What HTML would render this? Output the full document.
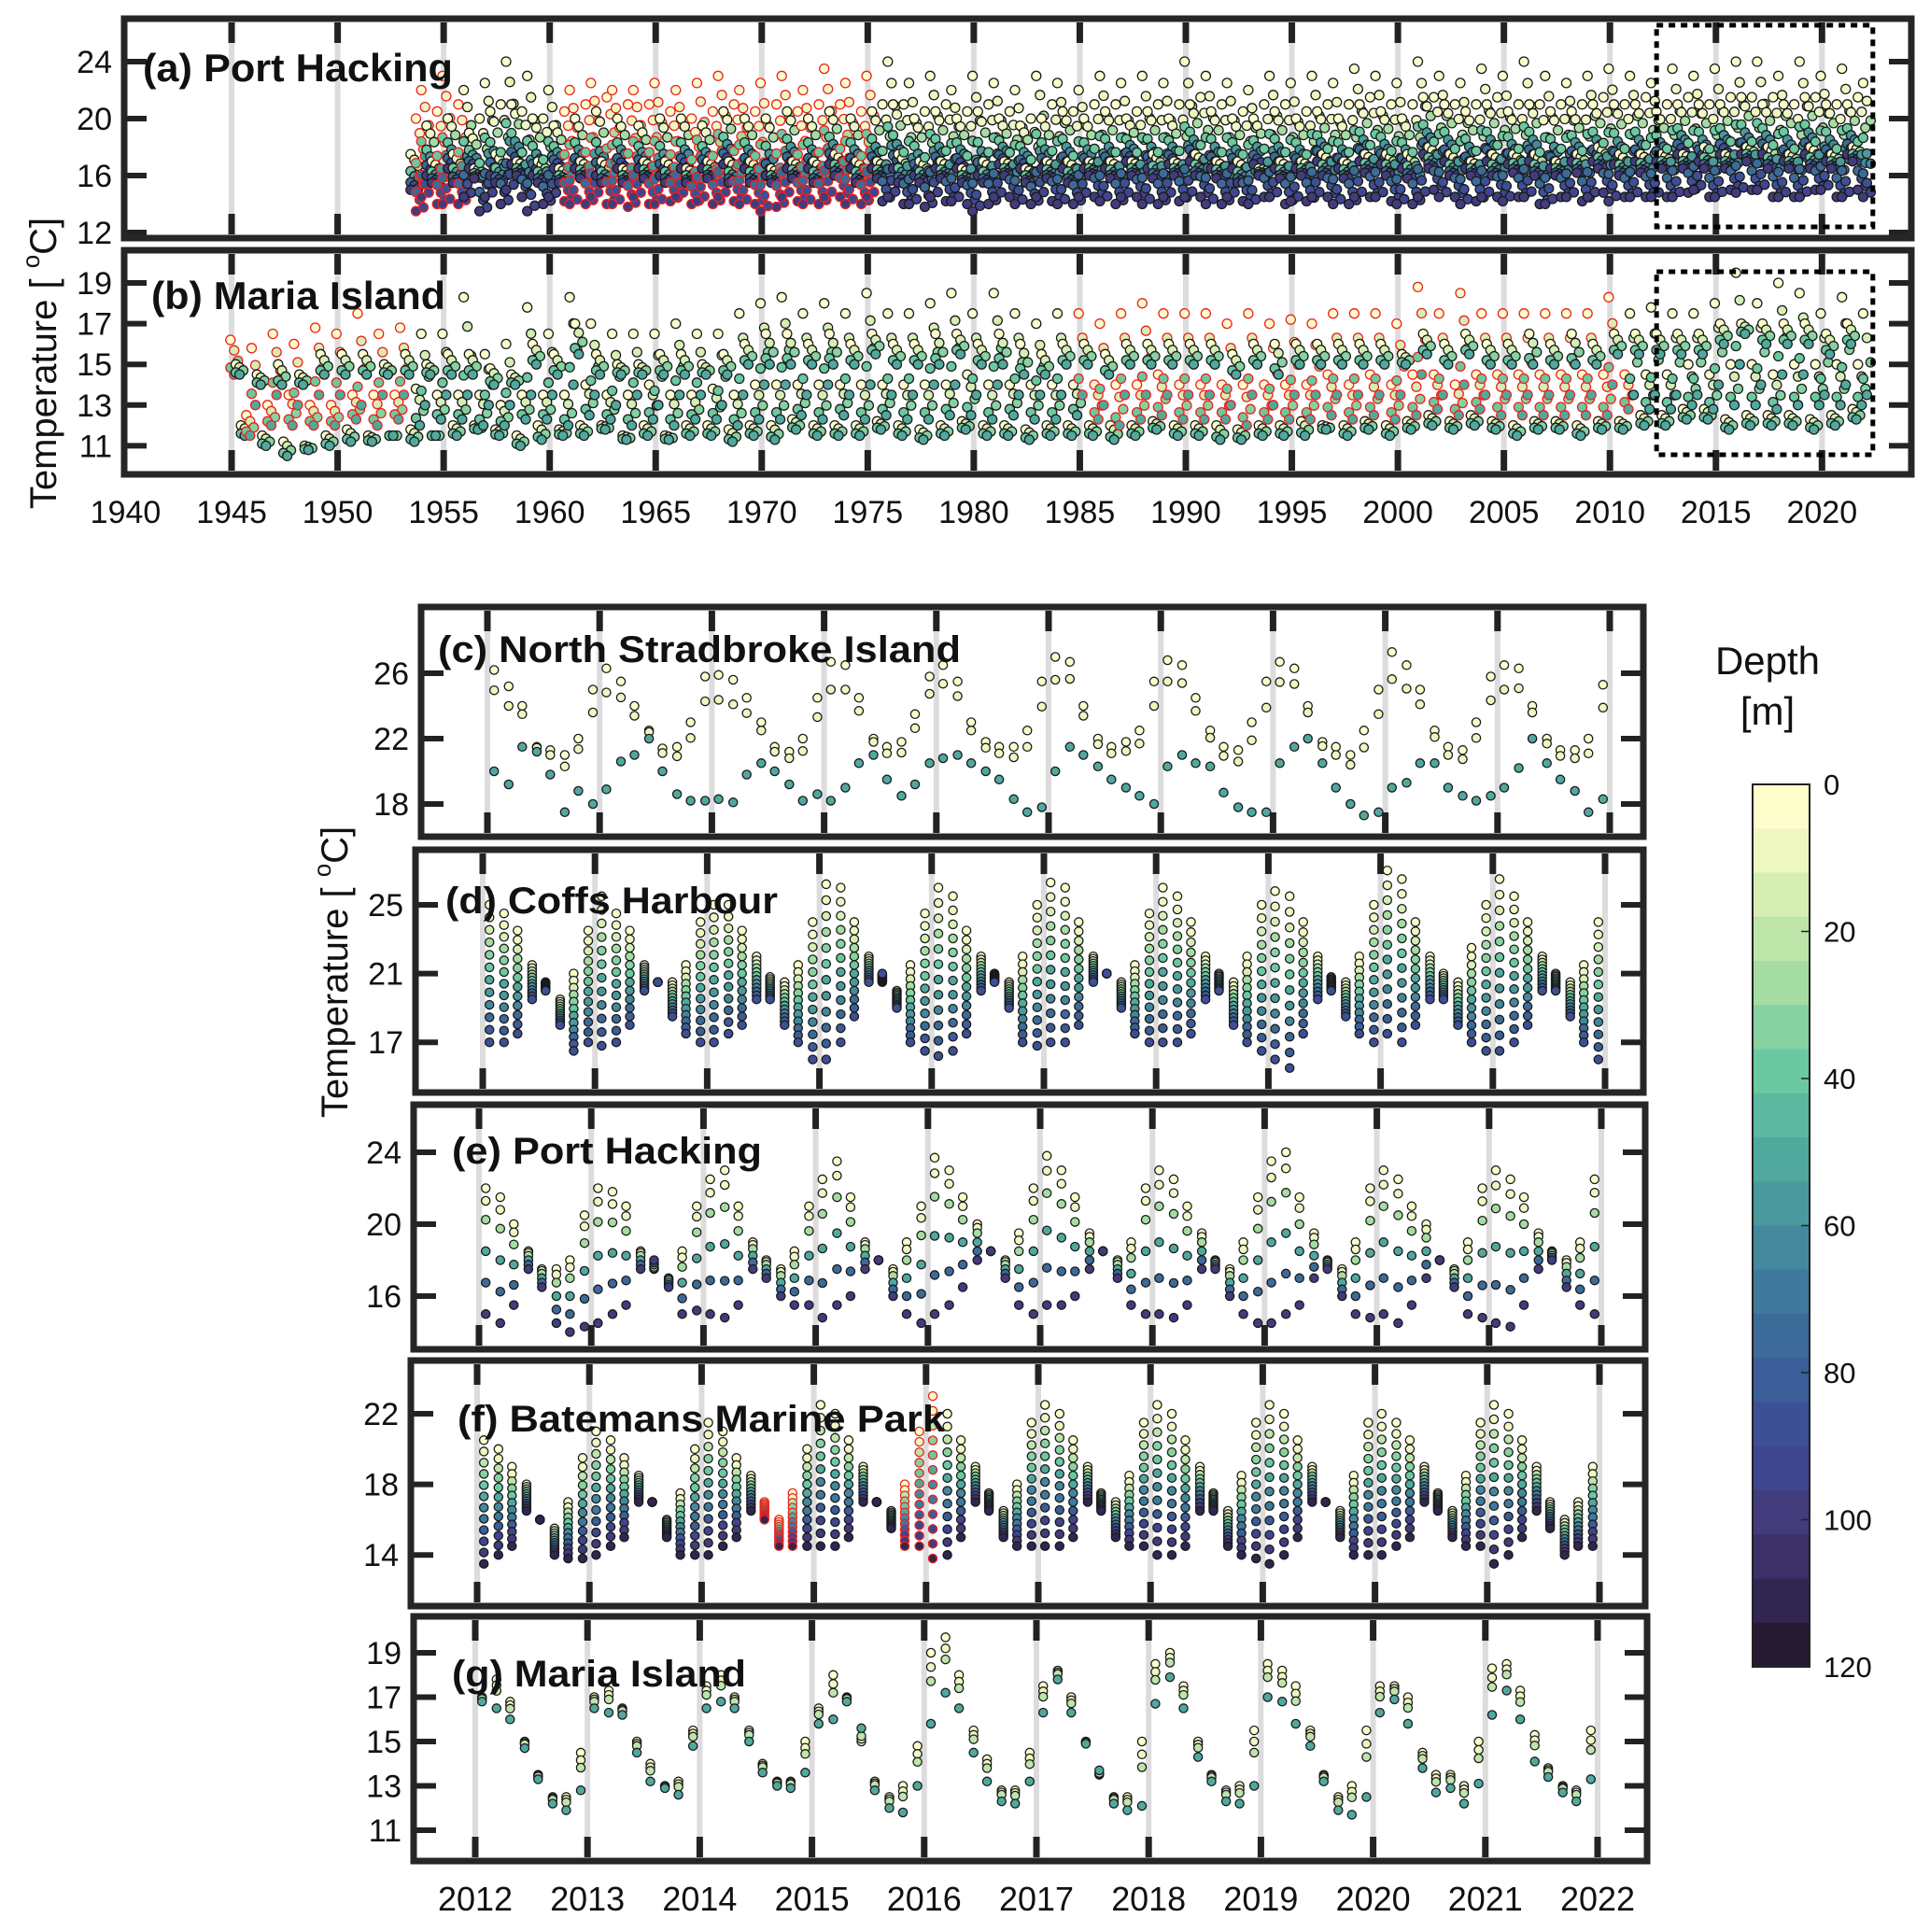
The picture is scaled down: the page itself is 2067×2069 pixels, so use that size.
<!DOCTYPE html>
<html><head><meta charset="utf-8"><style>
html,body{margin:0;padding:0;background:#fff}
svg{display:block}
text{font-family:"Liberation Sans",Arial,sans-serif;fill:#111}
</style></head><body>
<svg id="chart" xmlns="http://www.w3.org/2000/svg" width="2067" height="2069" viewBox="0 0 2067 2069">
<rect x="0" y="0" width="2067" height="2069" fill="#fff"/>
<g id="layer"></g>
</svg>
<script>
// ---------- DATA ----------
const aStartYear = 1953;
const aSurf = [
null,null,17.5,20, 22,19.5,17,20.5, 23,20,17.5,21, 22,19,16.5,20, 22.5,20.5,17.5,21, 24,21,17,20.5, 23,20,17,20,
22,19.5,16.5,20.5, 22,20,17,21, 22.5,20.5,17,21.5, 22,20,16.5,21, 22,19.5,17,21, 22.5,20,17,20.5, 22,20,16.5,20,
22.5,19.5,17,20.5, 23,20.5,17,21, 22,20,17,20.5, 22.5,20,16.5,21, 23,20.5,17,20.5, 22,20,17,21, 23.5,20.5,17.5,21,
22.5,20,17,20.5, 23,20.5,17,21, 24,21,17.5,21, 22.5,20,17,20.5, 23,20.5,17,21, 22,20,16.5,20.5, 23,20.5,17,21,
22.5,20,17,20.5, 22,19.5,16.5,20, 23,20,17,21, 22.5,20.5,17,20.5, 22,20,17,21, 23,20.5,17,21, 22.5,20,17,20.5,
23,20.5,17.5,21, 22.5,20,17,21, 24,21,17.5,21.5, 23,20.5,17,21, 22.5,20,17,20.5, 22,20,16.5,21, 23,20.5,17,21,
22.5,20,17,20.5, 23,20.5,17.5,21, 22.5,20,17,21, 23.5,21,17.5,21.5, 23,20.5,17.5,21, 22.5,20,17.5,21, 24,21.5,18,21.5,
23,21,17.5,21, 22.5,20.5,17,21, 23.5,21,17.5,21.5, 23,20.5,17.5,21, 24,21,17.5,21, 23,20.5,17,21, 22.5,20.5,17.5,21,
23,21,18,21.5, 23.5,21,17.5,21, 23,21,17.5,21.5, 22.5,20.5,17.5,21, 23.5,21,17.5,21.5, 23,21,18,21, 23.5,21,17.5,21.5,
24,21.5,18,21.5, 24,21,18,21.5, 23,21,17.5,21, 24,21.5,18,21.5, 23,21,17.5,21, 23.5,21,18,21.5, 22.5,null,null,null];
const aBot = [
null,null,15,13.5, 14.5,16,15.5,14, 14,16.5,15.5,14, 14.5,16.5,15.8,13.5, 14.5,16,15.5,14, 15,16.8,16,14.5, 13.5,16,15.5,14,
14.5,16.5,15.5,14.2, 14,16.5,15.8,14, 14.5,16,15.5,14, 14,16.5,15.5,13.8, 14.5,16.5,15.8,14, 14,16,15.5,14.2, 14.5,16.5,15.5,14,
14.2,16.5,15.8,14, 14.5,16.8,15.5,14.2, 14,16.5,15.5,14, 13.5,16,15.5,13.8, 14.5,16.5,15.8,14.2, 14,16.5,15.5,14, 14.5,16.8,16,14.5,
14,16.5,15.5,14, 14.5,16.5,15.8,14.2, 14.5,16.5,15.5,14, 14,16,15.5,13.8, 14.5,16.5,15.8,14.2, 14.2,16.5,15.5,14, 13.5,16,15.5,14,
14.5,16.8,16,14.5, 14,16.5,15.5,14, 14.5,16.5,15.8,14.2, 14,16.5,15.5,14, 14.5,16.5,16,14.5, 14.2,16.5,15.8,14, 14.5,17,16,14.5,
14,16.5,15.8,14, 14.5,16.8,16,14.2, 14.5,17,16,14.5, 14,16.5,15.8,14, 14.5,16.5,15.5,14.2, 14,16.8,16,14.5, 14.5,16.5,15.8,14,
14.2,16.5,16,14.2, 14.5,17,16,14.5, 14,16.5,15.8,14, 14.5,17,16.2,14.5, 14.5,16.8,16,14.2, 14,16.5,15.8,14, 14.5,17.5,16.5,15,
14.5,17,16,14.5, 14,16.5,16,14.2, 14.5,17,16,14.5, 14.2,16.8,16.2,14.5, 14.5,17,16,14, 14,16.5,16,14.5, 14.5,17,16.2,14.2,
14.5,17,16.5,14.8, 14.2,16.8,16,14.5, 14.5,17,16.2,14.5, 14.5,17,16.5,14.5, 14.5,17.5,16.5,14.8, 15,17,16.5,14.5, 14.5,17.5,16.5,15,
14.8,17.5,17,15, 15,17.5,16.5,14.5, 14.5,17,16.5,14.5, 14.5,17.5,16.5,15, 15,17,16.5,14.5, 14.5,17.5,17,15, 14.5,null,null,null];
const aRedRanges = [[1953.5,1956],[1960.5,1975.5]];

const bStartYear = 1945;
const bSurf = [
16.2,15,12,12.5, 15.8,14.5,11.5,13, 16.5,15,11.2,13.5, 16,14.5,11,13, 16.8,15.5,11.5,13, 16.5,15.5,11.8,13.5, 17.5,15.5,11.5,13.5,
16.5,15,11.5,13.5, 16.8,15.5,11.8,13.8, 16.5,15,11.5,13.5, 16.5,15.5,12,13.5, 18.3,15.5,12,13.5, 15.5,14.8,11.8,13, 16,14.5,11.5,13.5,
17.8,16,12,13.5, 16.5,15.5,11.8,13.5, 18.3,17,12,14, 17,15.5,12,13.5, 16.5,15,11.5,13.5, 16.5,15,12,14, 16.5,15.5,11.5,13.5,
17,15.5,12,13.5, 16.5,15,12,13.8, 16.5,15.5,11.8,13.5, 17.5,16,12,14, 18,16.5,12,14, 18.3,16.5,12.3,14, 17.5,16,12,14,
18,16.5,12,14, 17.5,16,12,14, 18.5,16.5,12.2,14, 17.5,16,12,14, 17.5,16,11.8,14, 18,16.5,12,14, 18.5,16.5,12.2,14.5,
17.5,16,12,14, 18.5,16.5,12,14, 17.5,16,11.8,14, 17,15.5,12,14, 17.5,16,12,14, 17.5,16,12,14, 17,15.5,12,14,
17.5,16,12,14, 18,16,12.2,14.5, 17.5,16,12,14, 17.5,16,12,14, 17.5,16,12,14, 17,15.5,11.8,14, 17.5,16,12,14,
17,16,12,14, 17.2,16,12.2,14, 17,16,12,14.5, 17.5,16,12,14, 17.5,16,12.2,14.5, 17.5,16,12,14, 17,15.5,12.2,14.5,
18.8,16.5,12.5,14.5, 17.5,16,12.2,14, 18.5,16.5,12.5,14.5, 17.5,16,12.2,14.5, 17.5,16,12,14.5, 17.5,16.5,12.2,14.5, 17.5,16,12.2,14.5,
17.5,16.5,12,14.5, 17.5,16,12.2,14.5, 18.3,16.5,12.2,14.5, 17.5,16.5,12.5,14.5, 17.8,16.5,12.5,14.5, 17.5,16.5,12.8,15, 17.5,16.5,12.8,14.5,
18,17,12.3,15, 19.5,17,12.5,15, 18,17,12.5,14.5, 19,17,12.5,15, 18.5,17,12.3,15, 17.5,16.5,12.5,15, 18.3,17,12.8,15,
17.5,null,null,null];
const bBot = [
14.5,14.5,11.5,11.5, 13,14,11,12, 13.5,14,10.5,12, 13,14,10.8,12, 13.5,14.5,11,12, 13.5,14.5,11.2,12.3, 13,14.5,11.2,12,
13.5,14.5,11.5,12.3, 13.5,14.5,11.2,12, 13,14.5,11.5,12.3, 13.5,14.5,11.5,12.3, 13.5,14.5,11.8,12, 13,14,11.5,12, 13,14,11,12.3,
13.5,15,11.3,12.3, 13.5,14.5,11.5,12, 14,15.5,11.5,12.5, 13.5,14.5,11.8,12.3, 13,14.5,11.3,12, 13.5,14.5,11.5,12.3, 13,14.5,11.3,12,
13.5,14.5,11.5,12.3, 13.5,14.5,11.5,12.3, 13,14.5,11.2,12, 13.5,15,11.5,12.3, 14,15,11.3,12.3, 14,15,11.8,12.5, 13.5,15,11.5,12.3,
14,15,11.5,12.5, 13.5,15,11.5,12.3, 14,15.5,11.8,12.5, 13.5,15,11.5,12.3, 13.5,15,11.3,12.3, 14,15,11.5,12.5, 14,15.5,11.8,12.5,
13.5,15,11.5,12.3, 14,15,11.5,12.5, 13.5,14.5,11.3,12.3, 13.5,14.5,11.5,12.3, 13.5,15,11.5,12.5, 13.5,15,11.5,12.3, 13,14.5,11.3,12,
13.5,15,11.5,12.3, 13.5,15,11.8,12.5, 13.5,15,11.5,12.3, 13.5,15,11.5,12.3, 13.5,15,11.3,12.3, 13,14.5,11.3,12, 13.5,15,11.5,12.3,
13,14.5,11.5,12.3, 13.5,15,11.5,12.3, 13.5,15,11.8,12.5, 13.5,15,11.5,12.3, 13.5,15,11.8,12.5, 13.5,15,11.5,12.3, 13.5,15,11.8,12.5,
14.5,15.5,12,12.8, 13.5,15,11.8,12.5, 14,15.5,12,12.8, 13.5,15,11.8,12.5, 13.5,15,11.5,12.5, 13.5,15,11.8,12.5, 13.5,15,11.8,12.5,
13.5,15,11.5,12.5, 13.5,15,11.8,12.5, 14,15.5,11.8,12.8, 13.5,15.5,12,12.8, 13.5,15.5,12,12.8, 13.5,15.5,12.3,13, 13.5,15.5,12.3,12.8,
14,16,11.8,13, 15,16.5,12,13, 14,16,12,12.8, 14.5,16,12,13, 14.5,16,11.8,13, 13.5,15.5,12,13, 14,16,12.3,13,
13.5,null,null,null];
const bRedRanges = [[1945,1953.5],[1985,2011]];
const redSampleSlots = [0,3]; // only Feb & Nov profiles have red-edged markers in the flagged periods

const lowStartYear = 2012;
const cSurf = [26.2,25.2,24,21.5,21.3,21,22,25, 26.3,25.5,24,22.5,21.4,21.5,23,25.8, 25.9,25.6,24.5,23,21.5,21.2,22,24.5,
26.7,26.5,24.5,22,21.5,21.8,23.5,25.8, 26.5,25.5,23,21.8,21.5,21.5,22.5,25.5, 27,26.7,24,22,21.5,21.8,22.5,25.5,
26.8,26.5,24.5,22.5,21.5,21.3,23,25.5, 26.7,26.3,24,21.8,21.5,21,22.5,25, 27.3,26.5,25,22.5,21.5,21.3,23,25.8,
26.5,26.3,24,22,21.3,21.3,22,25.3];
const cDeep = [20,19.2,21.5,21.2,19.8,17.5,18.8,18, 18.9,20.6,21,22,20,18.6,18.2,18.2, 18.3,18.1,19.8,20.5,20,19.2,18.2,18.6,
18.2,19,20.5,21,19.5,18.5,19.2,20.5, 20.8,21,20.5,20,19.5,18.3,17.5,17.8, 20,21.5,21,20.3,19.5,19,18.5,18,
20.3,21,20.5,20.3,18.7,17.8,17.5,17.5, 20.5,21.5,22,20.5,19,18,17.3,17.5, 19,19.3,20.5,20.5,19,18.5,18.2,18.5,
19,20.2,22,20.5,19.5,18.8,17.5,18.3];
const dSurf = [25,24.5,23.5,21.5,20.5,19.5,21,23.5, 25.5,24.5,23.5,21.5,20.5,20.5,21.5,24, 25,25,23.5,22,20.8,20.5,21.5,24,
26.2,26,24,22,20.5,20,21.5,24.5, 26,25.5,23.5,22,21,20.5,22,25, 26.3,26,24,22,21,20.5,21.5,24.5,
26,25.5,24,22,21,20.5,22,25, 25.8,25.5,24,22,20.8,20.5,22,25, 27,26.5,24,22,21,20.5,22.5,25,
26.5,25.5,24,22,21,20.5,21.5,24];
const dBot = [17,17,17.5,19.5,20,18,16.5,17, 16.8,17,18,20,20.5,18.5,17.5,17, 17,17.5,18,19.5,19.5,18,17,16,
16,17,18.5,20.5,21,19,17,16.5, 16.2,16.5,17.5,20,20.5,19,17,16.8, 17,17,18,20.5,21,19,17.5,17,
17,17,17.5,19.5,20,18,17,16.5, 16,15.5,17.5,19.5,20,18.5,17.5,17, 17.5,17,18,19.5,19.5,18,17,16.5,
16.5,17,18,20,20,18.5,17,16];
const eSurf = [22,21.5,20,18.5,17.5,17.5,18,20.5, 22,21.8,21,18.5,17.5,17,18.5,21, 22.5,23,21,19,18,17.5,18.5,21,
22.5,23.5,21.5,19,18,17.5,19,21, 23.7,23,21.5,20,18.5,18,19.5,22, 23.8,23,21.5,19.5,18.5,18,19,22,
23,22.5,21,19.5,18,17.5,19,21.5, 23.5,24,21.5,19.5,18,17.5,19,22, 23,22.5,21,20,18,17.5,19,22,
23,22.5,21.5,19.5,18.5,18,19,22.5];
const eBot = [15,14.5,15.5,17.5,16.5,14.5,14,14.3, 14.5,15,15.5,17.5,18,16.5,15,15.2, 15,14.8,15.5,17.5,17,16,15.5,15.5,
14.8,15.5,16,17.5,18,16,15,14.5, 15,15.5,16.5,18,18.5,17,15.5,15, 15.5,15.5,16,17.5,18.5,17,15.5,15,
15,14.8,15.5,17.5,17.5,16,15,14.5, 14.5,15,15.5,17,17.5,16,15,14.8, 15,14.5,15.5,17,18,16.5,15,14.8,
14.5,14.3,15.5,17.5,18,16.5,15.5,15];
const fSurf = [20.5,20,19,18,16,15.5,17,19.5, 21,20.5,19.5,18.5,17,16,17.5,20, 21.5,21,19.5,18.5,17,16,17.5,20,
22.5,22,20.5,19,17,16.5,18,21, 23,22,20.5,19,17.5,16.5,18,21.5, 22.5,22,20.5,19,17.5,17,18.5,21.5,
22.5,22,20.5,19,17.5,16.5,18.5,21.5, 22.5,22,20.5,19,17,16.5,18.5,21.5, 22,21.5,20.5,19,17.5,16.5,18.5,21.5,
22.5,22,20.5,19,17,16,17,19];
const fBot = [13.5,14,14.5,16.5,16,14,13.8,13.8, 14,14.5,15,17,17,15,14,14, 14,14.5,15,16.5,16,14.5,14.5,14.5,
14.5,14.5,15,17,17,15.5,14.5,14.5, 13.8,14,15,17,16.5,15,14.5,14.5, 14.5,14.5,15,17,16.5,15,14.5,14.5,
14,14,14.5,16.5,16.5,14.5,14,13.8, 13.5,14,15,17,17,15,14,14, 14,14.5,15,17,16.5,15,14.5,14.5,
13.5,14,15,16.5,15.5,14,14.5,14.5];
const gSurf = [17,17.8,16.8,15,13.5,12.5,12.5,14.5, 17,17.3,16.5,15,14,13,13.2,15.5, 17.5,18,17,15.5,14,13.2,13.2,15,
16.5,18,17,15,13.2,12.5,13,14.8, 19,19.7,18,15.5,14.2,12.8,12.8,14.5, 17.5,18.2,17,15,13.5,12.5,12.5,15,
18.5,19,17.5,15,13.5,12.8,13,15.5, 18.5,18.2,17.5,15.5,13.5,12.5,13,15.5, 17.5,17.5,17,14.5,13.5,13.5,13,15,
18.3,18.5,17.3,15.3,13.8,13,12.8,15.5];
const gBot = [16.8,16.5,16,14.7,13.3,12.2,11.9,12.8, 16.5,16.3,16.2,14.5,13.2,12.9,12.6,14.8, 16.5,16.8,16.5,15,13.6,13,12.9,13.6,
15.8,16,16.8,15.6,12.8,12,11.8,13, 15.8,17.2,16.5,14.5,13.2,12.3,12.2,13.2, 16.3,17.8,16.3,14.9,13.7,12.2,11.9,12.1,
16.7,17.9,16.5,14.3,13.2,12.3,12.2,13, 17,16.8,15.8,14.8,13.2,11.9,11.7,12.5, 16.3,16.9,15.8,13.8,12.7,12.9,12.2,13.1,
16.2,17.3,16,14.1,13.4,12.7,12.3,13.3];
const fRedRanges = [[2014.5,2014.9],[2015.7,2016.1]];

const topYearTicks = [1945,1950,1955,1960,1965,1970,1975,1980,1985,1990,1995,2000,2005,2010,2015,2020];
const topYearLabels = [1940,1945,1950,1955,1960,1965,1970,1975,1980,1985,1990,1995,2000,2005,2010,2015,2020];
const lowYearTicks = [2012,2013,2014,2015,2016,2017,2018,2019,2020,2021,2022];
const cbTicks = [0,20,40,60,80,100,120];

// ---------- RENDER ----------
const NS='http://www.w3.org/2000/svg';
const layer=document.getElementById('layer');
function mk(tag,parent){const e=document.createElementNS(NS,tag);(parent||layer).appendChild(e);return e;}

const cmapStops=['#fefecd','#eef7c2','#d6eeb4','#bde5aa','#a5dca2','#86d2a0','#6cc8a0','#5cb9a0','#51a99e','#4a999d',
'#44889d','#3f799b','#3c6b99','#3b5d98','#3d5096','#404590','#423b7c','#3b3168','#302650','#261a30'];
function depthColor(d){let i=Math.floor(d/6);if(i<0)i=0;if(i>19)i=19;return cmapStops[i];}

function line(x1,y1,x2,y2,stroke,w,name){const l=mk('line');l.setAttribute('x1',x1);l.setAttribute('y1',y1);l.setAttribute('x2',x2);l.setAttribute('y2',y2);l.setAttribute('stroke',stroke);l.setAttribute('stroke-width',w);


return l;}
function txt(x,y,s,size,anchor,name,weight,tl){const t=mk('text');t.setAttribute('x',x);t.setAttribute('y',y);t.setAttribute('font-size',size);t.setAttribute('text-anchor',anchor||'start');if(weight)t.setAttribute('font-weight',weight);if(tl){t.setAttribute('textLength',tl);t.setAttribute('lengthAdjust','spacingAndGlyphs');}t.textContent=s;


return t;}

function panel(cfg){
  const {x0,x1,y0,y1}=cfg;
  cfg.xticks.forEach(yr=>{const x=cfg.xAt(yr);
    line(x,y0+4,x,y1-4,'#dcdcdc',6,'x-gridline');
    line(x,y0+4,x,y0+26,'#222',7,'x-tick-top');
    line(x,y1-26,x,y1-4,'#222',7,'x-tick-bottom');
  });
  const g=mk('g');
  
  
  const maxD=cfg.depths[cfg.depths.length-1];
  cfg.surf.forEach((s,i)=>{
    const b=cfg.bot[i]; if(s===null||b===null) return;
    const slot=i%cfg.per;
    const t=cfg.start+Math.floor(i/cfg.per)+cfg.offs[slot];
    const red=cfg.red.some(r=>t>=r[0]&&t<=r[1]) && (!cfg.redSlots || cfg.redSlots.includes(slot));
    cfg.depths.forEach((d,k)=>{
      const v=s+(b-s)*Math.pow(d/maxD,cfg.shape||1);
      const c=mk('circle',g);
      c.setAttribute('cx',(cfg.xAt(t)+(cfg.spread||0)*((k%3)-1)).toFixed(1));
      c.setAttribute('cy',cfg.yAt(v).toFixed(1));
      c.setAttribute('r',cfg.r);
      c.setAttribute('fill',depthColor(d));
      c.setAttribute('stroke',red?'#e8221b':'#1a1a1a');
      c.setAttribute('stroke-width',1.3);
      
      
    });
  });
  cfg.yticks.forEach(v=>{const y=cfg.yAt(v);
    line(x0+3,y,x0+24,y,'#222',6,'y-tick-left');
    line(x1-24,y,x1-3,y,'#222',6,'y-tick-right');
    txt(x0-13,y+12,String(v),cfg.tickSize,'end','y-tick-label');
  });
  const r=mk('rect');r.setAttribute('x',x0);r.setAttribute('y',y0);r.setAttribute('width',x1-x0);r.setAttribute('height',y1-y0);
  r.setAttribute('fill','none');r.setAttribute('stroke','#262626');r.setAttribute('stroke-width',7);
  
  
  txt(cfg.tx,cfg.ty,cfg.title,cfg.tsize,'start',cfg.name+'-title','bold',cfg.tl);
  if(cfg.box){const bx=mk('rect');bx.setAttribute('x',cfg.xAt(cfg.box[0]));bx.setAttribute('y',cfg.box[2]);
    bx.setAttribute('width',cfg.xAt(cfg.box[1])-cfg.xAt(cfg.box[0]));bx.setAttribute('height',cfg.box[3]-cfg.box[2]);
    bx.setAttribute('fill','none');bx.setAttribute('stroke','#000');bx.setAttribute('stroke-width',5);bx.setAttribute('stroke-dasharray','7,6');
    
    }
}
const q4=[0.12,0.37,0.62,0.87];
const o8=[0.06,0.19,0.31,0.44,0.56,0.69,0.81,0.94];
const topX=t=>134.5+(t-1940)*22.71;

panel({name:'port-hacking-long',x0:133,x1:2047,y0:20,y1:255,xAt:topX,yAt:v=>66+(24-v)*15.25,xticks:topYearTicks,yticks:[24,20,16,12],
 surf:aSurf,bot:aBot,start:aStartYear,per:4,offs:q4,depths:[0,10,25,40,55,65,75,85,95,100],red:aRedRanges,redSlots:redSampleSlots,r:5,spread:4,shape:0.8,
 title:'(a) Port Hacking',tx:153,ty:87,tsize:42,tl:332,tickSize:34,box:[2012.2,2022.4,27,243]});
panel({name:'maria-island-long',x0:133,x1:2047,y0:268,y1:508,xAt:topX,yAt:v=>303+(19-v)*21.8,xticks:topYearTicks,yticks:[19,17,15,13,11],
 surf:bSurf,bot:bBot,start:bStartYear,per:4,offs:q4,depths:[0,15,30,40,50],red:bRedRanges,redSlots:redSampleSlots,r:5,spread:4,
 title:'(b) Maria Island',tx:162,ty:331,tsize:42,tl:315,tickSize:34,box:[2012.2,2022.4,291,487]});

const lowCfg=[
 {name:'north-stradbroke',x0:451,x1:1760,y0:650,y1:896,xs:522,yAt:v=>721+(26-v)*17.5,yticks:[26,22,18],surf:cSurf,bot:cDeep,depths:[0,10,50],red:[],title:'(c) North Stradbroke Island',tx:469,ty:709,tl:560},
 {name:'coffs-harbour',x0:445,x1:1760,y0:910,y1:1170,xs:517,yAt:v=>969+(25-v)*18.4,yticks:[25,21,17],surf:dSurf,bot:dBot,depths:[0,8,16,24,32,40,48,56,64,72,80,88],red:[],title:'(d) Coffs Harbour',tx:477,ty:978,tl:356},
 {name:'port-hacking-recent',x0:443,x1:1762,y0:1183,y1:1445,xs:513,yAt:v=>1234+(24-v)*19.25,yticks:[24,20,16],surf:eSurf,bot:eBot,depths:[0,10,25,50,75,100],red:[],title:'(e) Port Hacking',tx:484,ty:1246,tl:332},
 {name:'batemans-marine-park',x0:440,x1:1762,y0:1457,y1:1720,xs:511,yAt:v=>1514+(22-v)*18.9,yticks:[22,18,14],surf:fSurf,bot:fBot,depths:[0,10,20,30,40,50,60,70,80,90,100,110],red:fRedRanges,title:'(f) Batemans Marine Park',tx:490,ty:1533,tl:522},
 {name:'maria-island-recent',x0:443,x1:1764,y0:1731,y1:1993,xs:509,yAt:v=>1770+(19-v)*23.75,yticks:[19,17,15,13,11],surf:gSurf,bot:gBot,depths:[0,10,20,50],red:[],title:'(g) Maria Island',tx:484,ty:1806,tl:315}
];
lowCfg.forEach(c=>{const xs=c.xs;c.xAt=t=>xs+(t-2012)*120.2;c.xticks=lowYearTicks;c.start=lowStartYear;c.per=8;c.offs=o8;c.r=4.6;c.tsize=40;c.tickSize=34;panel(c);});

topYearLabels.forEach(y=>txt(topX(y),560,String(y),34,'middle','x-tick-label-top'));
lowYearTicks.forEach(y=>txt(509+(y-2012)*120.2,2046,String(y),36,'middle','x-tick-label-bottom',null,80));
function ylab(x,y,name){const t=mk('text');t.setAttribute('transform','translate('+x+','+y+') rotate(-90)');t.setAttribute('font-size',40);t.setAttribute('text-anchor','middle');
 t.appendChild(document.createTextNode('Temperature [ '));
 const s=mk('tspan',t);s.setAttribute('dy','-18');s.setAttribute('font-size','26');s.textContent='o';
 const s2=mk('tspan',t);s2.setAttribute('dy','18');s2.textContent='C]';
 
 }
ylab(60,389,'y-axis-title-top');
ylab(372,1041,'y-axis-title-bottom');

const cbx=1877,cbw=61,cby0=840,cby1=1785;
cmapStops.forEach((col,i)=>{const r=mk('rect');const h=(cby1-cby0)/20;r.setAttribute('x',cbx);r.setAttribute('y',(cby0+i*h).toFixed(1));r.setAttribute('width',cbw);r.setAttribute('height',(h+0.6).toFixed(1));r.setAttribute('fill',col);
 
 });
const cbf=mk('rect');cbf.setAttribute('x',cbx);cbf.setAttribute('y',cby0);cbf.setAttribute('width',cbw);cbf.setAttribute('height',cby1-cby0);cbf.setAttribute('fill','none');cbf.setAttribute('stroke','#222');cbf.setAttribute('stroke-width',2);


cbTicks.forEach(d=>{const y=cby0+(cby1-cby0)*d/120;
 if(d>0&&d<120) line(cbx+cbw-9,y,cbx+cbw,y,'#222',1.5,'colorbar-tick');
 txt(1953,y+11,String(d),31,'start','colorbar-tick-label');});
txt(1893,722,'Depth',42,'middle','colorbar-title');
txt(1893,776,'[m]',42,'middle','colorbar-unit');
</script>
</body></html>
